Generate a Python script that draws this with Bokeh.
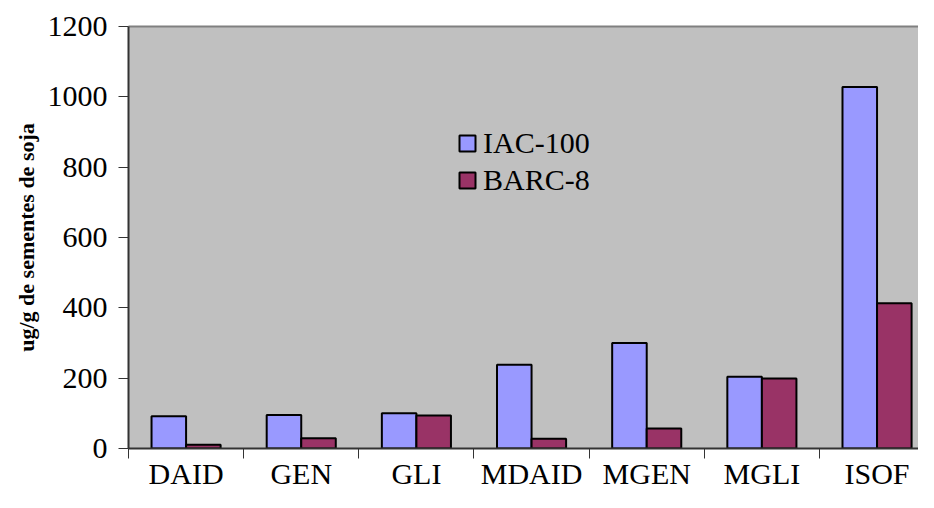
import numpy as np
from bokeh.plotting import figure
from bokeh.models import Range1d, FixedTicker, LinearAxis, Legend
from bokeh.embed import file_html
from bokeh.resources import INLINE

categories = ["DAID", "GEN", "GLI", "MDAID", "MGEN", "MGLI", "ISOF"]
iac_100 = [92, 95, 100, 238, 300, 204, 1028]
barc_8 = [11, 29, 94, 28, 57, 199, 413]
y_ticks = [0, 200, 400, 600, 800, 1000, 1200]

FONT = "Liberation Serif"
pos = np.arange(len(categories))

p = figure(width=918, height=492, output_backend="svg", toolbar_location=None,
           x_range=Range1d(-0.5, 6.36), y_range=Range1d(0, 1200),
           min_border_left=128, min_border_right=0, min_border_top=26, min_border_bottom=40,
           background_fill_color="#C0C0C0", border_fill_color="white",
           outline_line_color=None, x_axis_type=None, y_axis_type=None)
p.grid.visible = False

r1 = p.vbar(x=pos - 0.15, top=iac_100, width=0.3, fill_color="#9999FF",
            line_color="black", line_width=2)
r2 = p.vbar(x=pos + 0.15, top=barc_8, width=0.3, fill_color="#993366",
            line_color="black", line_width=2)

# bottom axis: labels at centres, ticks at category boundaries
xax = LinearAxis(ticker=FixedTicker(ticks=list(pos), minor_ticks=list(pos - 0.5) + [len(categories) - 0.5]))
xax.major_label_overrides = {int(i): c for i, c in zip(pos, categories)}
xax.major_tick_out = 0
xax.major_tick_in = 0
xax.minor_tick_out = 10
xax.minor_tick_in = 0
xax.minor_tick_line_color = "#333333"
xax.axis_line_color = "#333333"
xax.axis_line_width = 2
xax.major_label_text_font = FONT
xax.major_label_text_font_size = "30px"
xax.major_label_text_color = "black"
xax.major_label_standoff = -2
p.add_layout(xax, "below")

yax = LinearAxis(ticker=FixedTicker(ticks=y_ticks))
yax.major_tick_out = 10
yax.major_tick_in = 0
yax.minor_tick_line_color = None
yax.major_tick_line_color = "#333333"
yax.axis_line_color = "#333333"
yax.axis_line_width = 2
yax.major_label_text_font = FONT
yax.major_label_text_font_size = "30px"
yax.major_label_text_color = "black"
yax.major_label_standoff = 11
yax.axis_label = "ug/g de sementes de soja"
yax.axis_label_text_font = FONT
yax.axis_label_text_font_size = "22px"
yax.axis_label_text_font_style = "bold"
yax.axis_label_text_color = "black"
yax.axis_label_standoff = 6
p.add_layout(yax, "left")

top = LinearAxis(ticker=FixedTicker(ticks=[]))
top.axis_line_color = "#808080"
top.axis_line_width = 2
top.major_label_text_font_size = "0px"
top.major_tick_line_color = None
top.minor_tick_line_color = None
p.add_layout(top, "above")

legend = Legend(items=[("IAC-100", [r1]), ("BARC-8", [r2])], location=(329, 251),
                background_fill_alpha=0, border_line_color=None, padding=0, margin=0,
                glyph_width=20, glyph_height=20, label_standoff=6, spacing=3,
                label_text_font=FONT, label_text_font_size="30px", label_text_color="black")
p.add_layout(legend, "center")

open("out.html", "w").write(file_html(p, INLINE))
